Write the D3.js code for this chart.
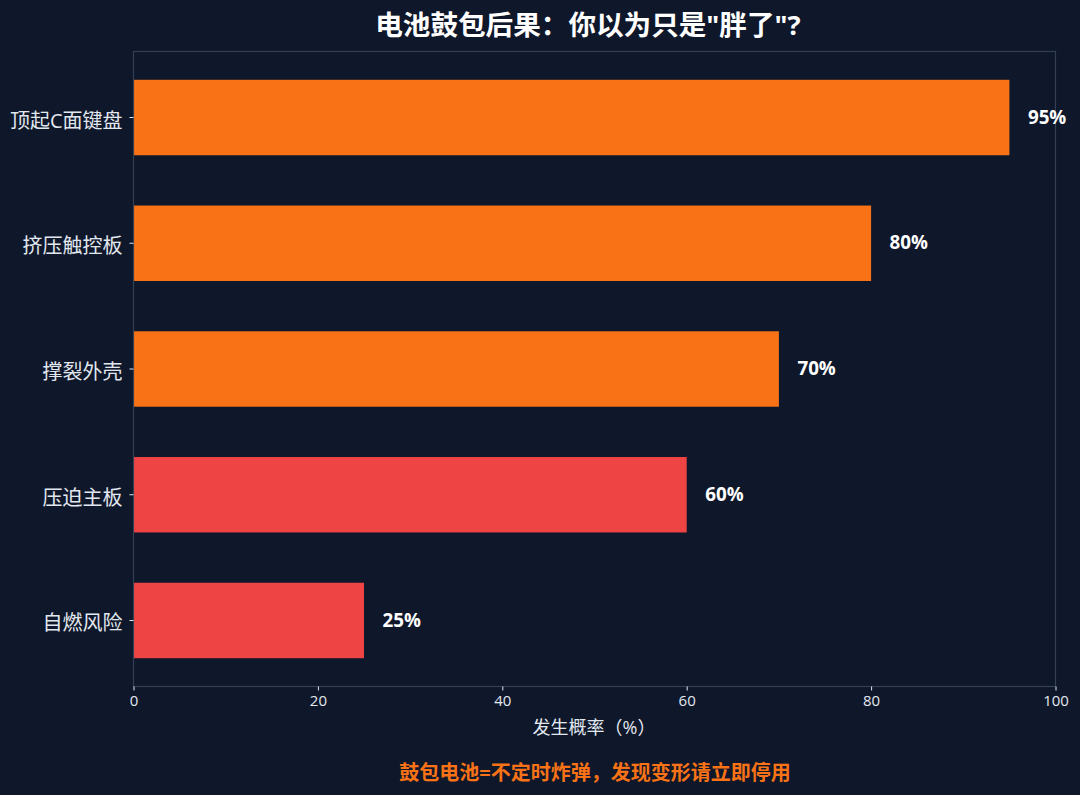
<!DOCTYPE html>
<html><head><meta charset="utf-8">
<script src="https://cdn.jsdelivr.net/npm/d3@7"></script>
<style>html,body{margin:0;padding:0;background:#0f172a;}svg{display:block;}text{font-family:"Open Sans","Noto Sans CJK SC",sans-serif;}</style>
</head><body><svg id="c" width="1080" height="795"></svg>
<script>
const categories=["顶起C面键盘","挤压触控板","撑裂外壳","压迫主板","自燃风险"];
const values=[95,80,70,60,25];
const barColors=["#f97316","#f97316","#f97316","#ef4444","#ef4444"];
const xTicks=[0,20,40,60,80,100];
const svg=d3.select("#c");
const L=133.5,R=1055.5,T=51.5,B=686.5;
const x=d3.scaleLinear().domain([0,100]).range([L,R]);
const y=d3.scaleBand().domain(categories).range([T,B]).paddingInner(0.4).paddingOuter(0.225);
svg.append("rect").attr("width",1080).attr("height",795).attr("fill","#0f172a");
svg.selectAll(".bar").data(categories).join("rect").attr("class","bar")
 .attr("x",x(0)).attr("y",d=>y(d)).attr("width",(d,i)=>x(values[i])-x(0)).attr("height",y.bandwidth()).attr("fill",(d,i)=>barColors[i]);
svg.append("rect").attr("x",L).attr("y",T).attr("width",R-L).attr("height",B-T).attr("fill","none").attr("stroke","#334155").attr("stroke-width",1.2);
svg.selectAll(".val").data(categories).join("text").attr("class","val")
 .attr("x",(d,i)=>x(values[i])+18.5).attr("y",d=>y(d)+y.bandwidth()/2).attr("dy","0.33em")
 .attr("fill","#fff").attr("font-size",18.8).attr("font-weight",700).text((d,i)=>values[i]+"%");
const ya=svg.append("g").attr("transform",`translate(${L},0)`).call(d3.axisLeft(y).tickSize(4).tickPadding(7));
ya.select(".domain").remove();
ya.selectAll("line").attr("stroke","#e2e8f0");
ya.selectAll("text").attr("fill","#e2e8f0").attr("font-size",20).attr("dy","0.5em");
const xa=svg.append("g").attr("transform",`translate(0,${B})`).call(d3.axisBottom(x).tickValues(xTicks).tickSize(4).tickPadding(5));
xa.select(".domain").remove();
xa.selectAll("line").attr("stroke","#e2e8f0");
xa.selectAll("text").attr("fill","#e2e8f0").attr("font-size",15);
svg.append("text").attr("x",594).attr("y",734).attr("text-anchor","middle").attr("fill","#e2e8f0").attr("font-size",18).text("发生概率（%）");
svg.append("text").attr("x",588).attr("y",35).attr("text-anchor","middle").attr("fill","#fff").attr("font-size",27.6).attr("font-weight",700).text('电池鼓包后果：你以为只是"胖了"?');
svg.append("text").attr("x",595).attr("y",780).attr("text-anchor","middle").attr("fill","#f97316").attr("font-size",20).attr("font-weight",700).text("鼓包电池=不定时炸弹，发现变形请立即停用");
</script></body></html>
